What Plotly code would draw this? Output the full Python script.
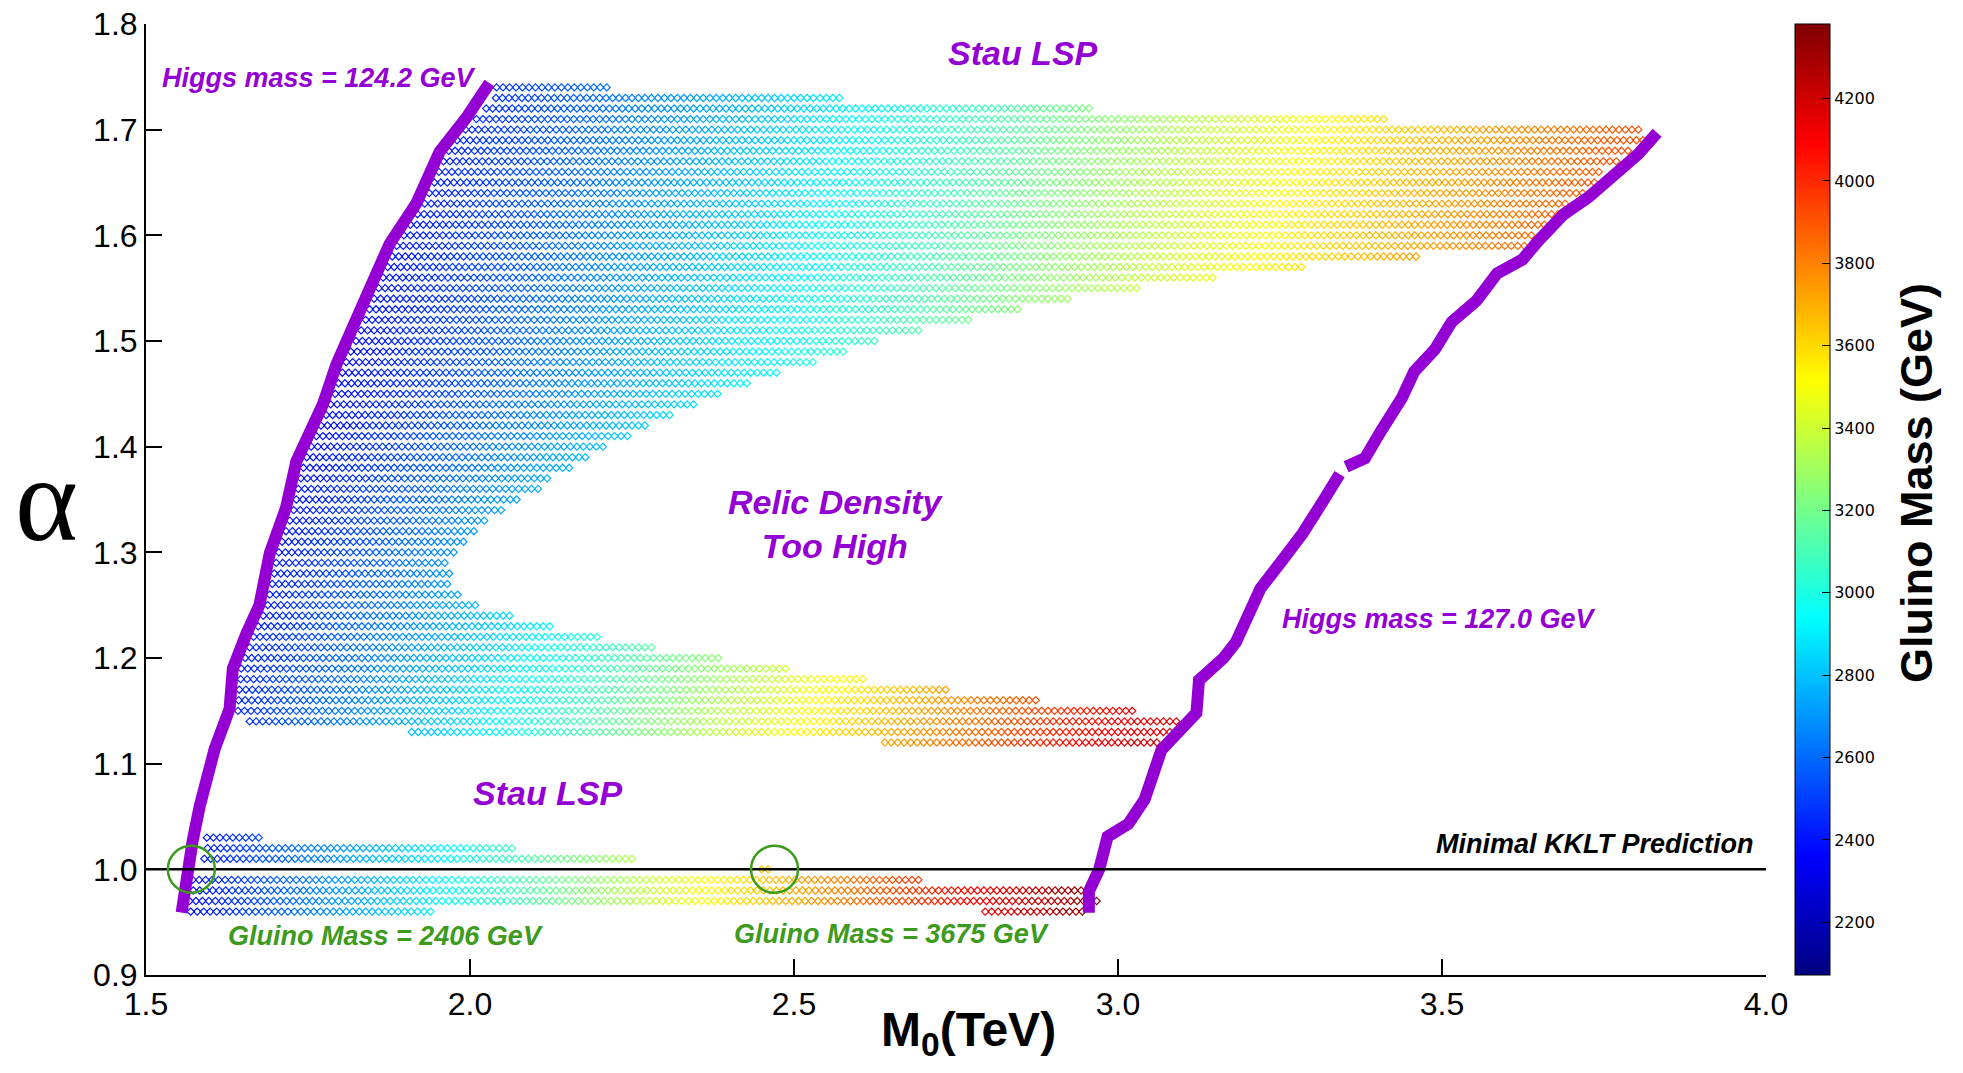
import numpy as np
import plotly.graph_objects as go

# ---------------- data ----------------
# scan rows: alpha value, first and last M0 (TeV) of dots in that row
ROW_ALPHA = [0.96, 0.96, 0.97, 0.98, 0.99, 1.00, 1.01, 1.02, 1.03,
             1.12, 1.13, 1.14, 1.15, 1.16, 1.17, 1.18, 1.19, 1.20, 1.21,
             1.22, 1.23, 1.24, 1.25, 1.26, 1.27, 1.28, 1.29, 1.30, 1.31,
             1.32, 1.33, 1.34, 1.35, 1.36, 1.37, 1.38, 1.39, 1.40, 1.41,
             1.42, 1.43, 1.44, 1.45, 1.46, 1.47, 1.48, 1.49, 1.50, 1.51,
             1.52, 1.53, 1.54, 1.55, 1.56, 1.57, 1.58, 1.59, 1.60, 1.61,
             1.62, 1.63, 1.64, 1.65, 1.66, 1.67, 1.68, 1.69, 1.70, 1.71,
             1.72, 1.73, 1.74]
ROW_START = [1.569, 2.795, 1.567, 1.573, 1.572, 2.450, 1.590, 1.595, 1.594,
             2.640, 1.910, 1.660, 1.642, 1.643, 1.644, 1.646, 1.647, 1.653, 1.660,
             1.666, 1.673, 1.681, 1.688, 1.691, 1.695, 1.698, 1.701, 1.705, 1.710,
             1.716, 1.722, 1.728, 1.732, 1.735, 1.739, 1.743, 1.748, 1.755, 1.763,
             1.770, 1.778, 1.785, 1.792, 1.797, 1.803, 1.809, 1.816, 1.824, 1.832,
             1.839, 1.845, 1.852, 1.859, 1.866, 1.873, 1.880, 1.887, 1.898, 1.908,
             1.919, 1.930, 1.937, 1.945, 1.952, 1.959, 1.967, 1.980, 1.993, 2.010,
             2.025, 2.040, 2.041]
ROW_END = [1.946, 2.952, 2.970, 2.952, 2.698, 2.465, 2.257, 2.067, 1.678,
           3.067, 3.088, 3.090, 3.031, 2.881, 2.740, 2.611, 2.490, 2.388, 2.289,
           2.197, 2.128, 2.068, 2.016, 1.986, 1.968, 1.968, 1.968, 1.977, 1.998,
           2.008, 2.027, 2.057, 2.077, 2.108, 2.128, 2.158, 2.187, 2.208, 2.248,
           2.278, 2.308, 2.347, 2.388, 2.428, 2.479, 2.530, 2.578, 2.629, 2.697,
           2.769, 2.849, 2.929, 3.031, 3.152, 3.290, 3.460, 3.627, 3.640, 3.661,
           3.679, 3.692, 3.722, 3.740, 3.743, 3.769, 3.789, 3.814, 3.804, 3.411,
           2.960, 2.571, 2.218]
M0_STEP = 0.01  # scan step in TeV

# gluino mass (GeV)
GLUINO_ALPHA = [0.96, 1.00, 1.15, 1.45, 1.74]
GLUINO_M0 = [1.5, 2.0, 2.5, 3.0, 3.5, 4.0]
GLUINO_MASS = [
    [2290, 2990, 3700, 4400, 4400, 4400],
    [2293, 2998, 3703, 4400, 4400, 4400],
    [2282, 2882, 3482, 4082, 4400, 4400],
    [2130, 2560, 2990, 3420, 3850, 4280],
    [2040, 2440, 2840, 3240, 3640, 4040],
]

# Higgs mass contours
H124_M0 = [1.555, 1.562, 1.572, 1.583, 1.595, 1.606, 1.629, 1.634, 1.655, 1.675,
           1.691, 1.716, 1.732, 1.752, 1.773, 1.794, 1.819, 1.845, 1.876, 1.917,
           1.953, 1.994, 2.030]
H124_ALPHA = [0.959, 0.995, 1.027, 1.060, 1.087, 1.114, 1.152, 1.190, 1.223, 1.250,
              1.299, 1.342, 1.386, 1.413, 1.440, 1.478, 1.510, 1.549, 1.592, 1.630,
              1.679, 1.711, 1.744]
H127_M0 = [2.955, 2.955, 2.971, 2.984, 3.016, 3.041, 3.067, 3.099, 3.121, 3.125,
           3.163, 3.182, 3.195, 3.220, 3.253, 3.285, 3.316, 3.342, None, 3.352,
           3.381, 3.406, 3.438, 3.457, 3.489, 3.515, 3.553, 3.585, 3.624, 3.649,
           3.688, 3.726, 3.764, 3.803, 3.832]
H127_ALPHA = [0.959, 0.979, 1.000, 1.031, 1.043, 1.066, 1.113, 1.133, 1.148, 1.179,
              1.200, 1.215, 1.231, 1.266, 1.292, 1.318, 1.348, 1.374, None, 1.381,
              1.389, 1.415, 1.446, 1.471, 1.492, 1.518, 1.538, 1.564, 1.577, 1.595,
              1.620, 1.636, 1.656, 1.677, 1.697]

KKLT_ALPHA = 1.0
CIRCLE_M0 = [1.57, 2.47]
CIRCLE_ALPHA = [1.0, 1.0]

X_TICKS = [1.5, 2.0, 2.5, 3.0, 3.5, 4.0]
Y_TICKS = [0.9, 1.0, 1.1, 1.2, 1.3, 1.4, 1.5, 1.6, 1.7, 1.8]
CB_TICKS = [2200, 2400, 2600, 2800, 3000, 3200, 3400, 3600, 3800, 4000, 4200]
CB_MIN, CB_MAX = 2072, 4381

# ---------------- build scan points ----------------
gm = np.array(GLUINO_MASS, dtype=float)
xs, ys, cs = [], [], []
for a, s, e in zip(ROW_ALPHA, ROW_START, ROW_END):
    m = np.arange(s, e + 1e-9, M0_STEP)
    row_vals = np.array([np.interp(a, GLUINO_ALPHA, gm[:, j]) for j in range(len(GLUINO_M0))])
    xs.extend(m.tolist())
    ys.extend([a] * len(m))
    cs.extend(np.interp(m, GLUINO_M0, row_vals).tolist())

JET = [[0.0, '#000080'], [0.125, '#0000ff'], [0.375, '#00ffff'],
       [0.625, '#ffff00'], [0.875, '#ff0000'], [1.0, '#800000']]

PURPLE = '#9400d3'
GREEN = '#3c9a1c'
SANS = 'Liberation Sans, Arial, sans-serif'

OFF = 8                      # default page (body) margin
W, H = 1947, 1057
L, R, T, B = 138, 189, 16, 90
PW = W - L - R
PH = H - T - B


def px(xw):   # window px -> paper x
    return (xw - OFF - L) / PW


def py(yw):   # window px -> paper y
    return (H - B - (yw - OFF)) / PH


fig = go.Figure()
fig.add_trace(go.Scatter(
    x=xs, y=ys, mode='markers',
    marker=dict(symbol='diamond-open', size=5.5, color=cs, colorscale=JET,
                cmin=CB_MIN, cmax=CB_MAX, line=dict(width=1.2),
                colorbar=dict(
                    x=px(1795), xanchor='left', y=0.5, yanchor='middle',
                    len=1.0, lenmode='fraction', thickness=35, xpad=0, ypad=0,
                    outlinecolor='black', outlinewidth=1,
                    tickvals=CB_TICKS, ticks='inside', ticklen=8, tickcolor='black',
                    tickfont=dict(family='DejaVu Sans', size=16, color='black'))),
    hoverinfo='skip', showlegend=False))

for mx, ay in ((H124_M0, H124_ALPHA), (H127_M0, H127_ALPHA)):
    fig.add_trace(go.Scatter(x=mx, y=ay, mode='lines',
                             line=dict(color=PURPLE, width=12),
                             connectgaps=False, showlegend=False, hoverinfo='skip'))

fig.add_trace(go.Scatter(x=[X_TICKS[0], X_TICKS[-1]], y=[KKLT_ALPHA, KKLT_ALPHA], mode='lines',
                         line=dict(color='black', width=2.5), showlegend=False, hoverinfo='skip'))

fig.add_trace(go.Scatter(x=CIRCLE_M0, y=CIRCLE_ALPHA, mode='markers',
                         marker=dict(symbol='circle-open', size=47,
                                     line=dict(color=GREEN, width=2.5), color=GREEN),
                         showlegend=False, hoverinfo='skip'))


def ann(text, x, y, size, color, xanchor='center', yanchor='middle', family=SANS,
        weight='bold', style='italic', xref='x', yref='y', angle=0):
    fig.add_annotation(text=text, x=x, y=y, xref=xref, yref=yref, showarrow=False,
                       xanchor=xanchor, yanchor=yanchor, textangle=angle,
                       font=dict(family=family, size=size, color=color, weight=weight, style=style))


ann('Higgs mass = 124.2 GeV', 1.521, 1.749, 27, PURPLE, xanchor='left')
ann('Higgs mass = 127.0 GeV', 3.250, 1.237, 27, PURPLE, xanchor='left')
ann('Stau LSP', 2.854, 1.773, 34, PURPLE)
ann('Stau LSP', 2.120, 1.0725, 34, PURPLE)
ann('Relic Density<br>Too High', 2.565, 1.327, 34, PURPLE)
ann('Minimal KKLT Prediction', 3.985, 1.024, 27, 'black', xanchor='right')
ann('Gluino Mass = 2406 GeV', 1.869, 0.937, 27, GREEN)
ann('Gluino Mass = 3675 GeV', 2.650, 0.939, 27, GREEN)

# axis titles
ann('α', px(46), 1.35, 120, 'black', family='Liberation Serif', weight='normal',
    style='normal', xref='paper')
ann('M<sub>0</sub>(TeV)', px(968), py(1033), 48, 'black', weight='bold',
    style='normal', xref='paper', yref='paper')
ann('Gluino Mass (GeV)', px(1916), py(483), 45, 'black', weight='bold',
    style='normal', xref='paper', yref='paper', angle=-90)

axis_common = dict(showline=True, linecolor='black', linewidth=2, ticks='inside',
                   ticklen=16, tickwidth=1.5, tickcolor='black', showgrid=False,
                   zeroline=False, mirror=False, ticklabeloverflow='allow',
                   automargin=False,
                   tickfont=dict(family=SANS, size=32, color='black'))
fig.update_xaxes(range=[1.5, 4.0], tickvals=X_TICKS, tickformat='.1f', **axis_common)
fig.update_yaxes(range=[0.9, 1.8], tickvals=Y_TICKS, tickformat='.1f', **axis_common)

fig.update_layout(width=W, height=H, margin=dict(l=L, r=R, t=T, b=B, autoexpand=False),
                  plot_bgcolor='white', paper_bgcolor='white', showlegend=False)

fig.write_html('out.html')
